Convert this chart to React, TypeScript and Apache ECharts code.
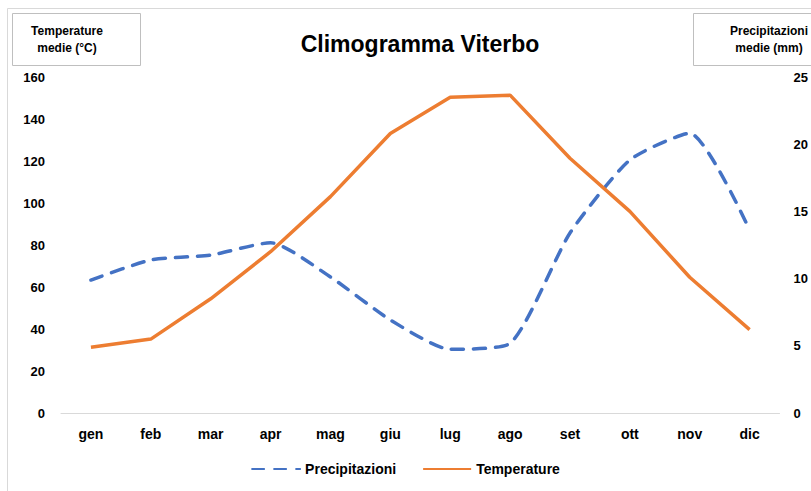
import React, { useEffect, useRef } from "react";
import * as echarts from "echarts";

const months = ["gen", "feb", "mar", "apr", "mag", "giu", "lug", "ago", "set", "ott", "nov", "dic"];
const precipitazioni = [63.3, 72.9, 75.2, 81.1, 64.8, 44.3, 30.3, 33.2, 85.7, 120.5, 133.2, 87.1];
const temperature = [4.9, 5.5, 8.5, 12.0, 16.1, 20.8, 23.5, 23.65, 18.95, 15.0, 10.1, 6.2];
const title = "Climogramma Viterbo";
const leftAxisName = ["Temperature", "medie (°C)"];
const rightAxisName = ["Precipitazioni", "medie (mm)"];

const FONT = "'Liberation Sans', Arial, sans-serif";
const BLUE = "#4472C4";
const ORANGE = "#ED7D31";

export default function App() {
  const ref = useRef<HTMLDivElement>(null);
  useEffect(() => {
    if (!ref.current) return;
    const chart = echarts.init(ref.current, undefined, { renderer: "svg" });
    chart.setOption({
      animation: false,
      backgroundColor: "#ffffff",
      textStyle: { fontFamily: FONT },
      title: {
        text: title,
        left: 415,
        textAlign: "center",
        top: 27,
        textStyle: { fontFamily: FONT, fontSize: 23, fontWeight: "bold", color: "#000" },
      },
      graphic: [
        { type: "rect", shape: { x: 7.5, y: 8.5, width: 820, height: 500 }, style: { fill: "none", stroke: "#d9d9d9", lineWidth: 1 }, silent: true },
        { type: "rect", shape: { x: 12.5, y: 13.5, width: 128, height: 52 }, style: { fill: "#fff", stroke: "#bfbfbf", lineWidth: 1 }, silent: true },
        { type: "text", x: 67, y: 22, style: { text: leftAxisName.join("\n"), font: `bold 12px ${FONT}`, fill: "#000", lineHeight: 17, align: "center" }, silent: true },
        { type: "rect", shape: { x: 693.5, y: 13.5, width: 130, height: 52 }, style: { fill: "#fff", stroke: "#bfbfbf", lineWidth: 1 }, silent: true },
        { type: "text", x: 769, y: 22, style: { text: rightAxisName.join("\n"), font: `bold 12px ${FONT}`, fill: "#000", lineHeight: 17, align: "center" }, silent: true },
      ],
      legend: {
        bottom: 10,
        left: "center",
        itemWidth: 48,
        itemHeight: 10,
        itemGap: 26,
        itemStyle: { opacity: 0 },
        textStyle: { fontFamily: FONT, fontSize: 14, fontWeight: "bold", color: "#000" },
        data: ["Precipitazioni", "Temperature"],
      },
      grid: { left: 61, right: 30, top: 77, bottom: 78, containLabel: false },
      xAxis: {
        type: "category",
        data: months,
        boundaryGap: true,
        axisLine: { lineStyle: { color: "#d9d9d9", width: 1 } },
        axisTick: { show: false },
        axisLabel: { fontFamily: FONT, fontSize: 14, fontWeight: "bold", color: "#000", margin: 14 },
      },
      yAxis: [
        {
          type: "value",
          min: 0,
          max: 160,
          interval: 20,
          position: "left",
          splitLine: { show: false },
          axisLine: { show: false },
          axisTick: { show: false },
          axisLabel: { fontFamily: FONT, fontSize: 13, fontWeight: "bold", color: "#000", margin: 16 },
        },
        {
          type: "value",
          min: 0,
          max: 25,
          interval: 5,
          position: "right",
          splitLine: { show: false },
          axisLine: { show: false },
          axisTick: { show: false },
          axisLabel: { fontFamily: FONT, fontSize: 13, fontWeight: "bold", color: "#000", margin: 14 },
        },
      ],
      series: [
        {
          name: "Precipitazioni",
          type: "line",
          yAxisIndex: 0,
          data: precipitazioni,
          symbol: "none",
          smooth: 0.2,
          color: BLUE,
          lineStyle: { color: BLUE, width: 3.5, type: [12, 10], cap: "round" },
        },
        {
          name: "Temperature",
          type: "line",
          yAxisIndex: 1,
          data: temperature,
          symbol: "none",
          color: ORANGE,
          lineStyle: { color: ORANGE, width: 3.5 },
        },
      ],
    });
    return () => chart.dispose();
  }, []);
  return (
    <div
      ref={ref}
      style={{ position: "fixed", left: 0, top: 0, width: 811, height: 491 }}
    />
  );
}
